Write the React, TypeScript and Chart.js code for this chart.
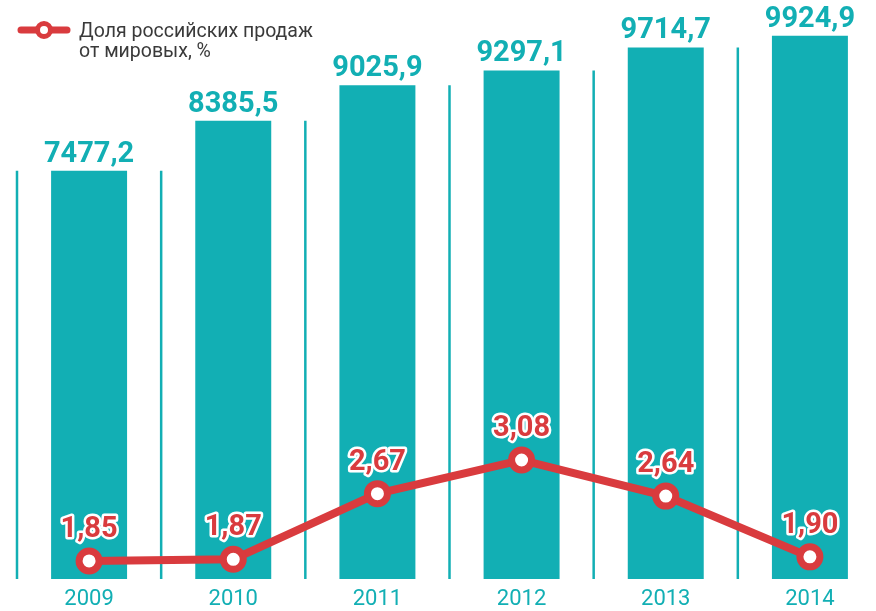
import React, { useEffect, useRef } from 'react';
import { Chart, registerables } from 'chart.js';

Chart.register(...registerables);

const categories = ['2009', '2010', '2011', '2012', '2013', '2014'];
const salesValues = [7477.2, 8385.5, 9025.9, 9297.1, 9714.7, 9924.9];
const shareValues = [1.85, 1.87, 2.67, 3.08, 2.64, 1.9];
const legendLines = ['Доля российских продаж', 'от мировых, %'];

const TEAL = '#12AFB4';
const RED = '#D93B3E';
const DARK = '#3a3a3a';

const fmt1 = (v: number) => v.toFixed(1).replace('.', ',');
const fmt2 = (v: number) => v.toFixed(2).replace('.', ',');

const separatorPlugin = {
  id: 'separators',
  beforeDatasetsDraw(chart: any) {
    const { ctx, scales } = chart;
    const xs = scales.x;
    const ys = scales.y;
    const half = (xs.getPixelForValue(1) - xs.getPixelForValue(0)) / 2;
    ctx.save();
    ctx.strokeStyle = TEAL;
    ctx.lineWidth = 2.5;
    categories.forEach((_, i) => {
      const x = xs.getPixelForValue(i) - half;
      const v = salesValues[Math.max(i - 1, 0)];
      const yTop = ys.getPixelForValue(v);
      ctx.beginPath();
      ctx.moveTo(x, yTop);
      ctx.lineTo(x, chart.chartArea.bottom);
      ctx.stroke();
    });
    ctx.restore();
  },
};

const labelPlugin = {
  id: 'valueLabels',
  afterDatasetsDraw(chart: any) {
    const { ctx } = chart;
    ctx.save();
    ctx.textAlign = 'center';
    ctx.textBaseline = 'alphabetic';
    const barMeta = chart.getDatasetMeta(1);
    ctx.font = 'bold 29px Roboto';
    ctx.fillStyle = TEAL;
    barMeta.data.forEach((el: any, i: number) => {
      ctx.fillText(fmt1(salesValues[i]), el.x, el.y - 9);
    });
    const lineMeta = chart.getDatasetMeta(0);
    ctx.font = 'bold 29px Roboto';
    ctx.lineJoin = 'round';
    lineMeta.data.forEach((el: any, i: number) => {
      const t = fmt2(shareValues[i]);
      ctx.strokeStyle = '#ffffff';
      ctx.lineWidth = 5;
      ctx.strokeText(t, el.x, el.y - 24);
      ctx.fillStyle = RED;
      ctx.fillText(t, el.x, el.y - 24);
    });
    ctx.restore();
  },
};

const legendPlugin = {
  id: 'customLegend',
  afterDraw(chart: any) {
    const { ctx } = chart;
    ctx.save();
    ctx.strokeStyle = RED;
    ctx.lineWidth = 7;
    ctx.lineCap = 'round';
    ctx.beginPath();
    ctx.moveTo(21, 30);
    ctx.lineTo(67, 30);
    ctx.stroke();
    ctx.beginPath();
    ctx.arc(44, 30, 6.5, 0, Math.PI * 2);
    ctx.fillStyle = '#ffffff';
    ctx.fill();
    ctx.lineWidth = 5;
    ctx.stroke();
    ctx.fillStyle = DARK;
    ctx.font = '19.5px Roboto';
    ctx.textAlign = 'left';
    ctx.textBaseline = 'alphabetic';
    ctx.fillText(legendLines[0], 79, 37);
    ctx.fillText(legendLines[1], 79, 57);
    ctx.restore();
  },
};

export default function App() {
  const ref = useRef<HTMLCanvasElement>(null);
  useEffect(() => {
    if (!ref.current) return;
    const chart = new Chart(ref.current, {
      type: 'bar',
      data: {
        labels: categories,
        datasets: [
          {
            type: 'line',
            label: legendLines.join(' '),
            data: shareValues,
            yAxisID: 'y2',
            borderColor: RED,
            borderWidth: 8,
            pointRadius: 10,
            pointBorderWidth: 7,
            pointBackgroundColor: '#ffffff',
            pointBorderColor: RED,
            tension: 0,
            order: 0,
          } as any,
          {
            type: 'bar',
            label: 'sales',
            data: salesValues,
            yAxisID: 'y',
            backgroundColor: TEAL,
            categoryPercentage: 1,
            barPercentage: 0.527,
            order: 1,
          },
        ],
      },
      options: {
        responsive: false,
        animation: false,
        devicePixelRatio: 1,
        layout: { padding: { left: 16, right: 18, top: 30, bottom: 0 } },
        plugins: { legend: { display: false }, tooltip: { enabled: false } },
        scales: {
          x: {
            offset: true,
            grid: { display: false },
            border: { display: false },
            ticks: { color: TEAL, font: { family: 'Roboto', size: 22 }, padding: -1 },
            afterFit(scale: any) {
              scale.height = 32;
            },
          },
          y: { display: false, min: 70, max: 10030 },
          y2: { display: false, min: 1.63, max: 8.32, position: 'right' },
        },
      },
      plugins: [separatorPlugin, labelPlugin, legendPlugin],
    });
    return () => chart.destroy();
  }, []);
  return (
    <div style={{ position: 'fixed', left: 0, top: 0, width: 876, height: 611, overflow: 'hidden', background: '#fff' }}>
      <canvas ref={ref} width={900} height={611} style={{ display: 'block' }} />
    </div>
  );
}
